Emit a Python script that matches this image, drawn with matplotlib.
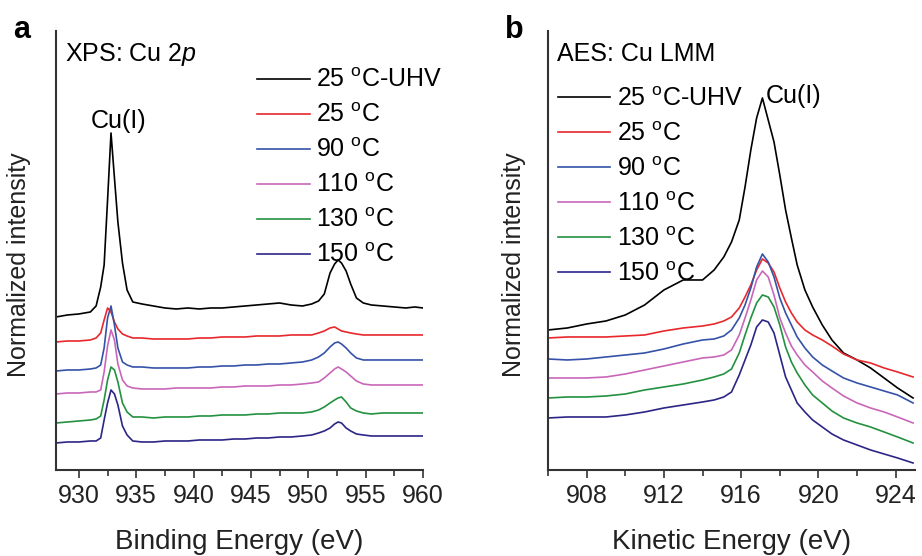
import matplotlib
matplotlib.use("Agg")
import matplotlib.pyplot as plt
from matplotlib.ticker import MultipleLocator

plt.rcParams["font.family"] = ["Liberation Sans", "DejaVu Sans"]
plt.rcParams["mathtext.fontset"] = "custom"
plt.rcParams["mathtext.rm"] = "Liberation Sans"
plt.rcParams["mathtext.it"] = "Liberation Sans:italic"

# series labels and colours
labels = ["25 $^{\\rm o}$C-UHV", "25 $^{\\rm o}$C", "90 $^{\\rm o}$C",
          "110 $^{\\rm o}$C", "130 $^{\\rm o}$C", "150 $^{\\rm o}$C"]
colors = ["#000000", "#e8282c", "#3552a8", "#c867b9", "#23913f", "#2b2586"]

# XPS Cu 2p (binding energy, eV) - offset intensities
xps_be = [928, 929, 930, 931, 931.5, 931.9, 932.2, 932.5, 932.8, 933.1, 933.4, 933.8,
          934.2, 934.7, 935.5, 936.5, 937.5, 938.5, 939.5, 940.5, 941.5, 942.5, 943.5,
          944.5, 945.5, 946.5, 947.5, 948.5, 949.5, 950.3, 950.9, 951.4, 951.9, 952.3,
          952.6, 952.9, 953.3, 953.7, 954.2, 954.8, 955.5, 956.5, 957.5, 958.5, 959.3, 960]
xps_uhv = [153, 155, 156, 158, 164, 183, 205, 270, 337, 292, 248, 207,
           180, 168, 166, 164, 162, 161, 162, 161, 162, 162, 163,
           164, 165, 166, 167, 165, 164, 166, 169, 176, 197, 206,
           210, 207, 199, 186, 172, 167, 165, 164, 163, 162, 163, 162]
xps_25 = [128, 129, 129, 130, 132, 137, 150, 162, 158, 148, 141, 136,
          134, 132, 132, 131, 131, 131, 131, 132, 132, 133, 133,
          133, 134, 134, 134, 135, 135, 135, 137, 139, 142, 143,
          141, 139, 138, 137, 136, 135, 135, 135, 135, 135, 135, 135]
xps_90 = [99, 100, 100, 101, 102, 105, 122, 152, 164, 145, 122, 108,
          105, 103, 103, 102, 102, 102, 102, 103, 103, 104, 104,
          105, 105, 106, 106, 107, 108, 110, 113, 117, 123, 127,
          128, 126, 122, 117, 112, 110, 110, 110, 110, 110, 110, 110]
xps_110 = [76, 77, 77, 78, 78, 80, 98, 124, 140, 130, 106, 90,
           84, 82, 81, 81, 81, 82, 82, 82, 82, 83, 83,
           84, 84, 84, 85, 85, 86, 87, 88, 92, 97, 101,
           103, 101, 98, 94, 89, 86, 85, 85, 85, 85, 85, 85]
xps_130 = [47, 48, 49, 50, 51, 54, 70, 90, 103, 100, 88, 67,
           58, 53, 53, 52, 53, 53, 53, 54, 54, 55, 55,
           55, 56, 56, 57, 57, 57, 58, 60, 63, 67, 70,
           72, 73, 68, 62, 59, 57, 56, 57, 57, 57, 57, 57]
xps_150 = [27, 28, 28, 29, 29, 32, 50, 67, 80, 76, 65, 44,
           35, 29, 28, 28, 29, 29, 29, 30, 30, 30, 31,
           31, 32, 32, 33, 33, 34, 35, 37, 39, 42, 46,
           48, 47, 42, 39, 36, 35, 34, 34, 34, 34, 34, 34]

# AES Cu LMM (kinetic energy, eV)
aes_ke = [906, 907, 908, 909, 910, 911, 912, 913, 914, 914.6, 915.1, 915.5, 915.9,
          916.2, 916.5, 916.8, 917.1, 917.4, 917.7, 918.0, 918.3, 918.6, 918.9,
          919.3, 919.7, 920.2, 920.7, 921.3, 922, 922.7, 923.4, 924.1, 924.9]
aes_uhv = [140, 142, 146, 149, 155, 165, 180, 190, 190, 200, 213, 228, 250,
           283, 320, 352, 372, 350, 328, 295, 260, 232, 205,
           180, 163, 145, 130, 117, 110, 102, 92, 82, 72]
aes_25 = [132, 133, 133, 133, 134, 135, 139, 142, 144, 146, 149, 153, 162,
          173, 185, 200, 211, 207, 198, 182, 168, 157, 148,
          140, 135, 130, 124, 116, 110, 107, 102, 98, 93]
aes_90 = [111, 110, 111, 113, 115, 117, 121, 126, 130, 131, 134, 140, 152,
          165, 182, 203, 216, 208, 193, 172, 157, 145, 133,
          122, 113, 105, 99, 92, 87, 83, 79, 75, 67]
aes_110 = [92, 92, 92, 93, 96, 100, 104, 108, 112, 113, 115, 120, 135,
           152, 170, 190, 199, 193, 175, 152, 137, 124, 115,
           105, 98, 89, 82, 74, 67, 62, 58, 53, 47]
aes_130 = [72, 73, 73, 74, 76, 80, 83, 86, 90, 93, 96, 101, 117,
           135, 152, 167, 175, 173, 163, 145, 123, 108, 97,
           85, 75, 67, 59, 52, 47, 43, 38, 33, 27]
aes_150 = [52, 53, 53, 53, 55, 58, 62, 65, 68, 70, 73, 78, 95,
           110, 125, 143, 150, 148, 137, 115, 93, 80, 67,
           58, 50, 43, 36, 30, 25, 20, 16, 12, 7]

xps_series = [xps_uhv, xps_25, xps_90, xps_110, xps_130, xps_150]
aes_series = [aes_uhv, aes_25, aes_90, aes_110, aes_130, aes_150]

fig = plt.figure(figsize=(9.22, 5.56), dpi=100)
ax1 = fig.add_axes([0.0607, 0.1547, 0.398, 0.7896])
ax2 = fig.add_axes([0.5944, 0.1547, 0.398, 0.7896])

for ax in (ax1, ax2):
    ax.spines["top"].set_visible(False)
    ax.spines["right"].set_visible(False)
    ax.spines["left"].set_linewidth(1.5)
    ax.spines["bottom"].set_linewidth(1.5)
    ax.spines["left"].set_color("#333333")
    ax.spines["bottom"].set_color("#333333")
    ax.set_yticks([])
    ax.set_ylim(0, 439)
    ax.tick_params(axis="x", which="major", length=6, width=1.2, labelsize=18, pad=4,
                   color="#333333", labelcolor="#222222")
    ax.tick_params(axis="x", which="minor", length=4, width=1.2, color="#333333")

for ys, c, lab in zip(xps_series, colors, labels):
    ax1.plot(xps_be, ys, color=c, lw=1.2, label=lab)
for ys, c, lab in zip(aes_series, colors, labels):
    ax2.plot(aes_ke, ys, color=c, lw=1.2, label=lab)

ax1.set_xlim(928, 960)
ax1.xaxis.set_major_locator(MultipleLocator(5))
ax1.xaxis.set_minor_locator(MultipleLocator(2.5))
ax2.set_xlim(906, 925)
ax2.set_xticks([908, 912, 916, 920, 924])
ax2.xaxis.set_minor_locator(MultipleLocator(2))

ax1.set_xlabel("Binding Energy (eV)", fontsize=20, color="#222222")
ax2.set_xlabel("Kinetic Energy (eV)", fontsize=20, color="#222222")
ax1.xaxis.set_label_coords(0.5, -0.135)
ax2.xaxis.set_label_coords(0.5, -0.135)
ax1.set_ylabel("Normalized intensity", fontsize=18, color="#222222")
ax2.set_ylabel("Normalized intensity", fontsize=18, color="#222222")
ax1.yaxis.set_label_coords(-0.068, 0.467)
ax2.yaxis.set_label_coords(-0.06, 0.467)

ax1.text(0.025, 0.932, "XPS: Cu 2$\\it{p}$", transform=ax1.transAxes, fontsize=18,
         va="baseline")
ax2.text(0.025, 0.932, "AES: Cu LMM", transform=ax2.transAxes, fontsize=18,
         va="baseline")
ax1.text(933.5, 342, "Cu(I)", fontsize=18, ha="center", va="baseline")
ax2.text(918.7, 367, "Cu(I)", fontsize=18, ha="center", va="baseline")

leg_kw = dict(frameon=False, fontsize=18, handlelength=2.1, handletextpad=0.25,
              labelspacing=0.44, borderpad=0, borderaxespad=0, loc="upper left")
ax1.legend(bbox_to_anchor=(0.548, 0.915), **leg_kw)
ax2.legend(bbox_to_anchor=(0.027, 0.873), **leg_kw)

fig.text(13 / 922, 1 - 38 / 556, "a", fontsize=22, fontweight="bold", va="baseline")
fig.text(505 / 922, 1 - 38 / 556, "b", fontsize=22, fontweight="bold", va="baseline")

fig.savefig("out.png", dpi=100)
